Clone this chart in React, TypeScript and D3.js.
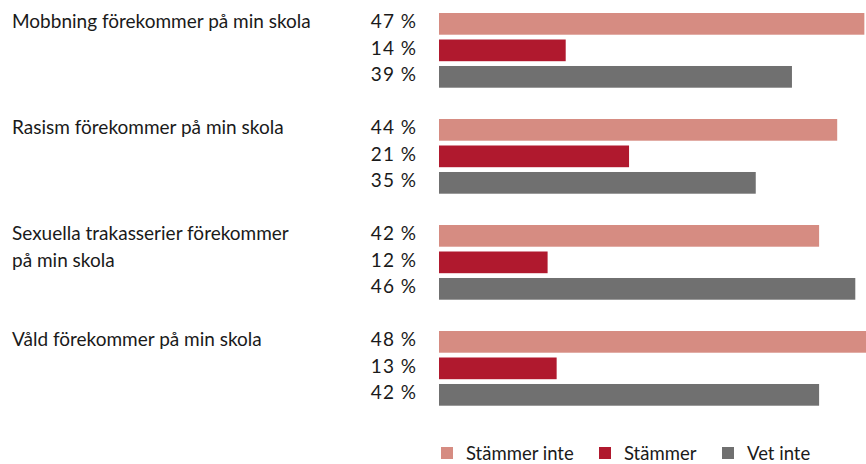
import React, { useEffect, useRef } from "react";
import * as d3 from "d3";

const categories = [
  ["Mobbning förekommer på min skola"],
  ["Rasism förekommer på min skola"],
  ["Sexuella trakasserier förekommer", "på min skola"],
  ["Våld förekommer på min skola"],
];
const seriesNames = ["Stämmer inte", "Stämmer", "Vet inte"];
const stammerInte = [47, 44, 42, 48];
const stammer = [14, 21, 12, 13];
const vetInte = [39, 35, 46, 42];
const colors = ["#D68C82", "#B0192E", "#707070"];

const App = () => {
  const svgRef = useRef<SVGSVGElement>(null);

  useEffect(() => {
    const svg = d3.select(svgRef.current);
    svg.selectAll("*").remove();

    const width = 866;
    const height = 464;
    const font = "Lato, 'Open Sans', sans-serif";
    const fontSize = 19;
    const values = [stammerInte, stammer, vetInte];

    const x = d3.scaleLinear().domain([0, 100]).range([439, 439 + 905]);
    const y0 = d3
      .scaleBand()
      .domain(d3.range(categories.length).map(String))
      .range([13, 13 + 4 * 106]);
    const y1 = d3
      .scaleBand()
      .domain(seriesNames)
      .range([0, 74.7])
      .paddingInner(0.181);

    svg.attr("width", width).attr("height", height);

    const group = svg
      .selectAll(".group")
      .data(categories)
      .enter()
      .append("g")
      .attr("transform", (d, i) => `translate(0,${y0(String(i))})`);

    group
      .selectAll("text.cat")
      .data((d) => d)
      .enter()
      .append("text")
      .attr("class", "cat")
      .attr("x", 12)
      .attr("y", (d, j) => y1(seriesNames[j])! + y1.bandwidth() / 2)
      .attr("dy", "0.23em")
      .attr("font-family", font)
      .attr("font-size", fontSize)
      .attr("fill", "#1a1a1a")
      .text((d) => d);

    group.each(function (_, i) {
      const g = d3.select(this);
      seriesNames.forEach((s, k) => {
        const v = values[k][i];
        g.append("rect")
          .attr("x", x(0))
          .attr("y", y1(s)!)
          .attr("width", x(v) - x(0))
          .attr("height", y1.bandwidth())
          .attr("fill", colors[k]);
        g.append("text")
          .attr("x", 417)
          .attr("y", y1(s)! + y1.bandwidth() / 2)
          .attr("dy", "0.23em")
          .attr("text-anchor", "end")
          .attr("font-family", font)
          .attr("font-size", fontSize)
          .attr("letter-spacing", 1)
          .attr("fill", "#1a1a1a")
          .text(`${v} %`);
      });
    });

    // Legend
    const legendX = [441, 599, 722];
    const legend = svg
      .append("g")
      .selectAll(".legend")
      .data(seriesNames)
      .enter()
      .append("g")
      .attr("transform", (d, i) => `translate(${legendX[i]},447)`);

    legend
      .append("rect")
      .attr("width", 12)
      .attr("height", 12)
      .attr("fill", (d, i) => colors[i]);

    legend
      .append("text")
      .attr("x", 25)
      .attr("y", 13)
      .attr("font-family", font)
      .attr("font-size", fontSize - 0.5)
      .attr("fill", "#1a1a1a")
      .text((d) => d);
  }, []);

  return (
    <div style={{ position: "absolute", left: 0, top: 0 }}>
      <svg ref={svgRef} style={{ display: "block" }}></svg>
    </div>
  );
};

export default App;
